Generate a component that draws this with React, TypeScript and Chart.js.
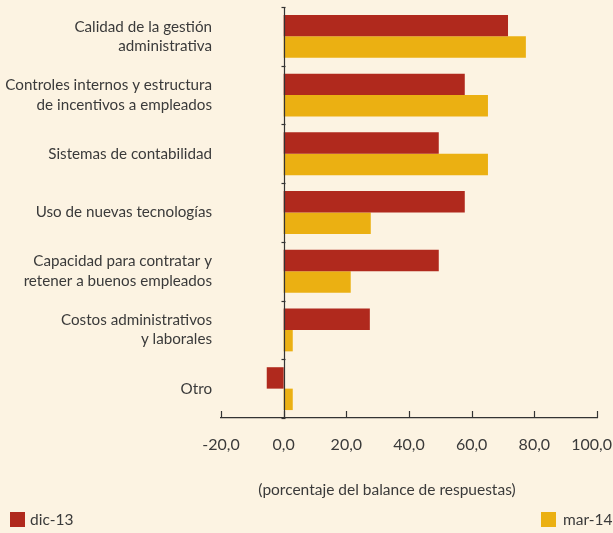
import React, { useEffect, useRef } from "react";
import { Chart, registerables } from "chart.js";

Chart.register(...registerables);

const categories: (string | string[])[] = [
  ["Calidad de la gestión", "administrativa"],
  ["Controles internos y estructura", "de incentivos a empleados"],
  "Sistemas de contabilidad",
  "Uso de nuevas tecnologías",
  ["Capacidad para contratar y", "retener a buenos empleados"],
  ["Costos administrativos", "y laborales"],
  "Otro",
];
const dic13 = [71.6, 57.8, 49.5, 57.8, 49.5, 27.5, -5.4];
const mar14 = [77.3, 65.2, 65.2, 27.8, 21.4, 2.9, 2.9];
const seriesNames = ["dic-13", "mar-14"];
const xTicks = [-20, 0, 20, 40, 60, 80, 100];
const axisTitle = "(porcentaje del balance de respuestas)";

const RED = "#B0291D";
const GOLD = "#EBB012";
const BG = "#FCF3E2";
const TXT = "#3a3a3a";
const FONT = "Lato, 'Open Sans', sans-serif";

const fmt = (v: number) => v.toFixed(1).replace(".", ",");

export default function App() {
  const ref = useRef<HTMLCanvasElement>(null);
  useEffect(() => {
    const canvas = ref.current!;
    const decor = {
      id: "decor",
      beforeDraw(chart: any) {
        const ctx = chart.ctx;
        ctx.save();
        ctx.fillStyle = BG;
        ctx.fillRect(0, 0, chart.width, chart.height);
        ctx.restore();
      },
      afterDraw(chart: any) {
        const ctx = chart.ctx;
        const xs = chart.scales.x;
        const top = chart.chartArea.top;
        const bottom = chart.chartArea.bottom;
        ctx.save();
        ctx.strokeStyle = "#333";
        ctx.lineWidth = 1.2;
        const x0 = Math.round(xs.getPixelForValue(0)) + 0.5;
        ctx.beginPath();
        ctx.moveTo(x0, top);
        ctx.lineTo(x0, bottom);
        ctx.stroke();
        const n = categories.length;
        const step = (bottom - top) / n;
        for (let i = 0; i <= n; i++) {
          const y = Math.round(top + i * step) + 0.5;
          ctx.beginPath();
          ctx.moveTo(x0 - 3, y);
          ctx.lineTo(x0 + 1, y);
          ctx.stroke();
        }
        ctx.fillStyle = TXT;
        ctx.font = `16px ${FONT}`;
        ctx.textAlign = "center";
        ctx.textBaseline = "middle";
        for (const t of xTicks) {
          const px = xs.getPixelForValue(t);
          const x = Math.round(px) + 0.5;
          ctx.beginPath();
          ctx.moveTo(x, bottom);
          ctx.lineTo(x, bottom - 7);
          ctx.stroke();
          const label = fmt(t);
          const w = ctx.measureText(label).width;
          const cx = Math.min(px, chart.width - 1 - w / 2);
          ctx.fillText(label, cx, 445);
        }
        ctx.font = `15.5px ${FONT}`;
        ctx.fillText(axisTitle, 387, 490);
        ctx.textAlign = "left";
        ctx.fillStyle = RED;
        ctx.fillRect(10, 512, 15, 15);
        ctx.fillStyle = TXT;
        ctx.fillText(seriesNames[0], 30, 520);
        ctx.fillStyle = GOLD;
        ctx.fillRect(541, 512, 15, 15);
        ctx.fillStyle = TXT;
        ctx.fillText(seriesNames[1], 563, 520);
        ctx.restore();
      },
    };
    const chart = new Chart(canvas, {
      type: "bar",
      data: {
        labels: categories,
        datasets: [
          { label: seriesNames[0], data: dic13, backgroundColor: RED },
          { label: seriesNames[1], data: mar14, backgroundColor: GOLD },
        ],
      },
      options: {
        indexAxis: "y",
        animation: false,
        responsive: false,
        maintainAspectRatio: false,
        layout: { padding: { top: 7, right: 16, bottom: 75, left: 0 } },
        plugins: {
          legend: { display: false },
          tooltip: { enabled: false },
        },
        datasets: {
          bar: { categoryPercentage: 0.73, barPercentage: 1.0 },
        },
        scales: {
          x: {
            min: -20,
            max: 100,
            afterBuildTicks: (s: any) => {
              s.ticks = xTicks.map((v) => ({ value: v }));
            },
            afterFit: (s: any) => {
              s.height = 40;
              s.paddingLeft = 0;
              s.paddingRight = 0;
            },
            grid: { display: false, drawTicks: false },
            border: { display: true, color: "#333", width: 1.2 },
            ticks: { display: false },
          },
          y: {
            afterFit: (s: any) => {
              s.width = 221;
              s.paddingTop = 0;
              s.paddingBottom = 0;
            },
            grid: { display: false, drawTicks: false },
            border: { display: false },
            ticks: {
              padding: 9,
              color: TXT,
              font: { size: 15.2, family: FONT, lineHeight: 1.27 },
            },
          },
        },
      },
      plugins: [decor],
    });
    return () => chart.destroy();
  }, []);
  return (
    <div style={{ position: "fixed", left: 0, top: 0, width: 613, height: 533, background: BG }}>
      <canvas ref={ref} width={613} height={533} />
    </div>
  );
}
